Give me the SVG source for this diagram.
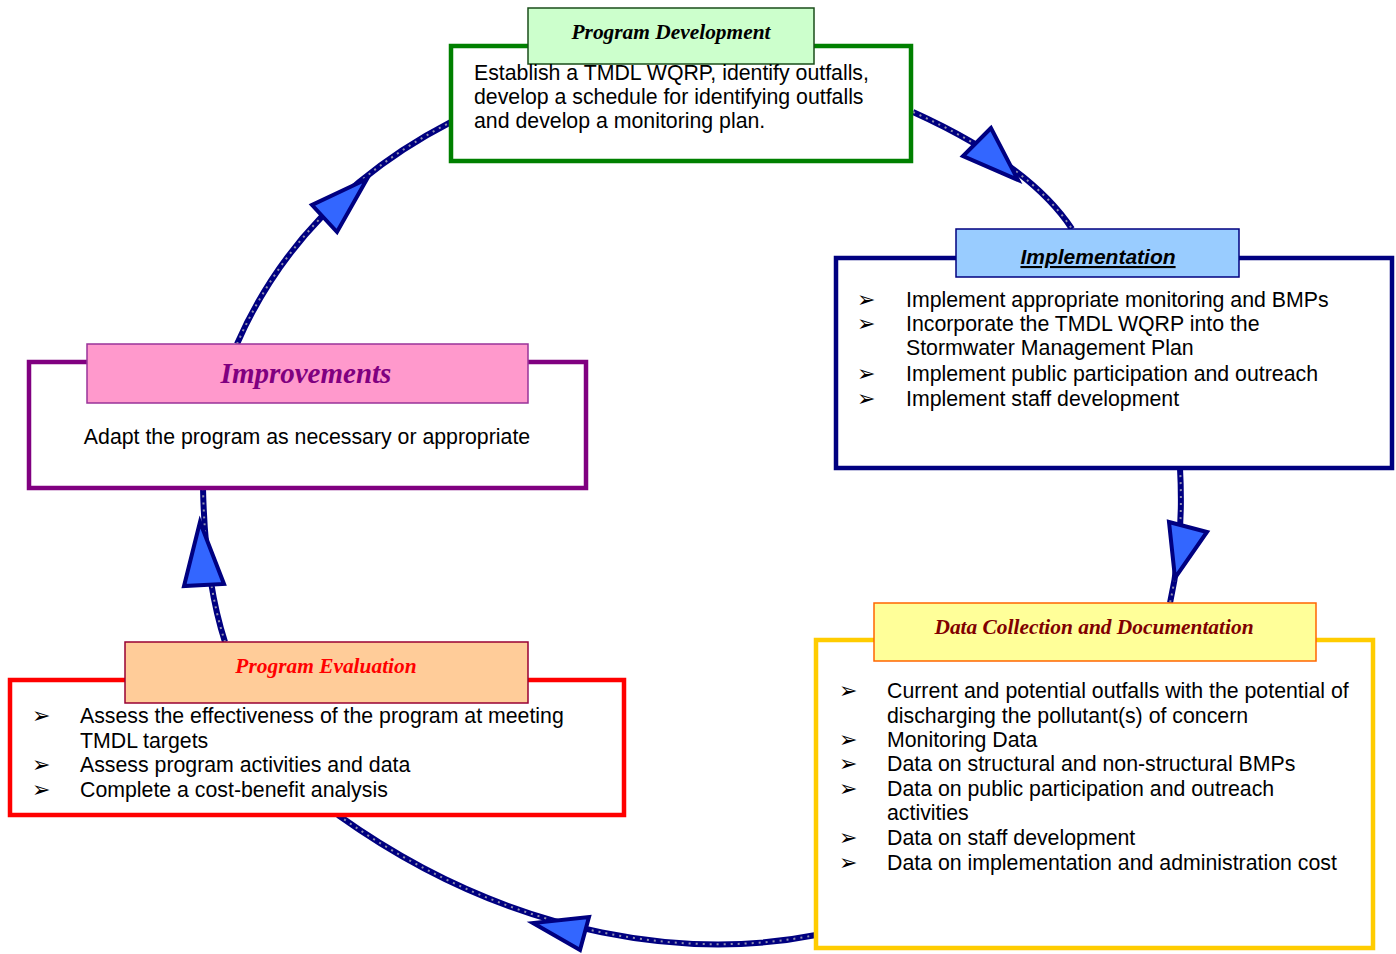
<svg xmlns="http://www.w3.org/2000/svg" width="1396" height="954" viewBox="0 0 1396 954">
<style>
.body{font-family:"Liberation Sans",Arial,sans-serif;font-size:21.3px;fill:#000}
.bul{font-family:"DejaVu Sans",sans-serif;font-size:22px;fill:#000}
.ttl{font-family:"Liberation Serif","Times New Roman",serif;font-weight:bold;font-style:italic;font-size:21.4px;text-anchor:middle}
.outer{fill:#fff;stroke-width:4.5}
.tbox{stroke-width:1.5}
.cl{fill:none;stroke:#000080;stroke-width:6}
.cd{fill:none;stroke:#9090b0;stroke-width:2;stroke-dasharray:2 5}
.ah{fill:#3366ff;stroke:#000080;stroke-width:4;stroke-linejoin:miter}
</style>
<rect width="1396" height="954" fill="#fff"/>
<g id="connectors">
<path class="cl" d="M913 112 Q1030 165 1072 229"/>
<path class="cd" d="M913 112 Q1030 165 1072 229"/>
<path class="cl" d="M1180 468 Q1184 540 1170 603"/>
<path class="cd" d="M1180 468 Q1184 540 1170 603"/>
<path class="cl" d="M816 935 C700 958 520 945 338 815"/>
<path class="cd" d="M816 935 C700 958 520 945 338 815"/>
<path class="cl" d="M225 642 Q205 580 203 488"/>
<path class="cd" d="M225 642 Q205 580 203 488"/>
<path class="cl" d="M237 344 Q300 200 451 122"/>
<path class="cd" d="M237 344 Q300 200 451 122"/>
<polygon class="ah" points="991,128 963,156 1018,180"/>
<polygon class="ah" points="1169,522 1207,532 1175,578"/>
<polygon class="ah" points="589,917 580,950 533,923"/>
<polygon class="ah" points="200,522 184,586 224,584"/>
<polygon class="ah" points="367,179 312,205 337,232"/>
</g>
<g id="program-development">
<rect class="outer" x="451" y="46" width="460" height="115" stroke="#008000"/>
<rect class="tbox" x="528" y="8" width="286" height="56" fill="#ccffcc" stroke="#1a4d1a"/>
<text class="ttl" x="671" y="39" fill="#000">Program Development</text>
<text class="body" x="474" y="80">Establish a TMDL WQRP, identify outfalls,</text>
<text class="body" x="474" y="104">develop a schedule for identifying outfalls</text>
<text class="body" x="474" y="128">and develop a monitoring plan.</text>
</g>
<g id="implementation">
<rect class="outer" x="836" y="258" width="556" height="210" stroke="#000080"/>
<rect class="tbox" x="956" y="229" width="283" height="48" fill="#99ccff" stroke="#000080"/>
<text x="1098" y="264" text-anchor="middle" font-family="Liberation Sans,Arial,sans-serif" font-weight="bold" font-style="italic" font-size="21" text-decoration="underline" fill="#000">Implementation</text>
<text class="bul" x="857" y="307">➢</text>
<text class="body" x="906" y="307">Implement appropriate monitoring and BMPs</text>
<text class="bul" x="857" y="331">➢</text>
<text class="body" x="906" y="331">Incorporate the TMDL WQRP into the</text>
<text class="body" x="906" y="355">Stormwater Management Plan</text>
<text class="bul" x="857" y="381">➢</text>
<text class="body" x="906" y="381">Implement public participation and outreach</text>
<text class="bul" x="857" y="406">➢</text>
<text class="body" x="906" y="406">Implement staff development</text>
</g>
<g id="data-collection">
<rect class="outer" x="816" y="640" width="557" height="308" stroke="#ffcc00"/>
<rect class="tbox" x="874" y="603" width="442" height="58" fill="#ffff99" stroke="#ff6600"/>
<text class="ttl" x="1094" y="634" fill="#800000">Data Collection and Documentation</text>
<text class="bul" x="839" y="698">➢</text>
<text class="body" x="887" y="698">Current and potential outfalls with the potential of</text>
<text class="body" x="887" y="723">discharging the pollutant(s) of concern</text>
<text class="bul" x="839" y="747">➢</text>
<text class="body" x="887" y="747">Monitoring Data</text>
<text class="bul" x="839" y="771">➢</text>
<text class="body" x="887" y="771">Data on structural and non-structural BMPs</text>
<text class="bul" x="839" y="796">➢</text>
<text class="body" x="887" y="796">Data on public participation and outreach</text>
<text class="body" x="887" y="820">activities</text>
<text class="bul" x="839" y="845">➢</text>
<text class="body" x="887" y="845">Data on staff development</text>
<text class="bul" x="839" y="870">➢</text>
<text class="body" x="887" y="870">Data on implementation and administration cost</text>
</g>
<g id="program-evaluation">
<rect class="outer" x="10" y="680" width="614" height="135" stroke="#ff0000"/>
<rect class="tbox" x="125" y="642" width="403" height="61" fill="#ffcc99" stroke="#990033"/>
<text class="ttl" x="326" y="673" fill="#ff0000">Program Evaluation</text>
<text class="bul" x="32" y="723">➢</text>
<text class="body" x="80" y="723">Assess the effectiveness of the program at meeting</text>
<text class="body" x="80" y="748">TMDL targets</text>
<text class="bul" x="32" y="772">➢</text>
<text class="body" x="80" y="772">Assess program activities and data</text>
<text class="bul" x="32" y="797">➢</text>
<text class="body" x="80" y="797">Complete a cost-benefit analysis</text>
</g>
<g id="improvements">
<rect class="outer" x="29" y="362" width="557" height="126" stroke="#800080"/>
<rect class="tbox" x="87" y="344" width="441" height="59" fill="#ff99cc" stroke="#993399"/>
<text class="ttl" x="306" y="383" fill="#800080" style="font-size:29px">Improvements</text>
<text class="body" x="307" y="444" text-anchor="middle">Adapt the program as necessary or appropriate</text>
</g>
</svg>
